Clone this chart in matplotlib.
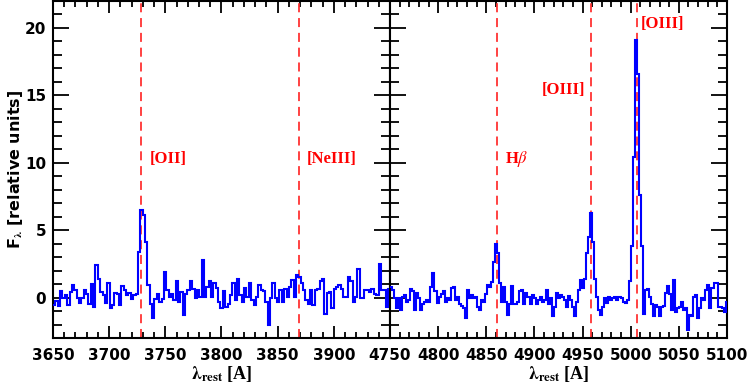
import matplotlib
matplotlib.use("Agg")
import matplotlib.pyplot as plt
import numpy as np

plt.rcParams["font.family"] = "DejaVu Sans"
plt.rcParams["mathtext.fontset"] = "stix"

# Spectrum values, 2.1 A rest-frame bins.
bin_width = 2.1

blue_start = 3650.0
blue_flux = [
    # 3650 - 3725
    -0.55, -0.25, -0.6, 0.5, 0.0, 0.2, -0.55, 0.4, 0.9, 0.55, 0.0, -0.4,
    0.0, 0.55, 0.3, -0.5, 1.0, -0.7, 2.4, 1.4, 0.4, 0.2, -0.4, 1.1,
    -0.8, -0.55, 0.35, 0.3, -0.55, 0.85, 0.55, 0.2, 0.35, -0.1, 0.2, 0.3,
    # [OII]
    3.4, 6.5, 6.1, 4.1,
    # 3734 - 3801
    0.9, -0.5, -1.5, -0.1, 0.3, -0.3, -0.1, 1.9, 0.55, 0.05, 0.25, -0.15,
    1.2, -0.3, 0.4, -1.3, 0.3, 0.55, 1.2, 0.6, -0.05, 0.55, 0.05, 2.8,
    0.05, 0.8, 1.2, 0.05, 1.05, 0.7, -0.3, -0.8,
    # 3801 - 3879
    0.45, -0.7, -0.45, 0.2, 1.05, -0.2, 1.4, 0.2, -0.3, 0.7, 0.05, 1.05,
    -0.2, -0.55, 0.05, 0.9, 0.55, 0.45, -0.3, -2.0, -0.05, 1.05, 0.0, -0.3,
    0.55, -0.3, 0.6, 0.05, 0.75, 1.3, 0.05, 1.65, 1.5, 1.1, 0.55, -0.2, -0.45,
    # 3879 - 3950
    0.55, -0.55, 0.55, 0.65, 1.25, 1.35, -1.2, 0.35, 0.4, -0.8, 0.65, 0.75,
    0.95, 0.65, 0.05, 0.05, 1.55, 1.2, -0.3, 0.05, 2.15, -0.05, -0.05, 0.55,
    0.55, 0.4, 0.65, 0.3, 0.2, 2.5, 0.55, 0.55, -0.7, 0.65,
]

red_start = 4750.0
red_flux = [
    # 4750 - 4838
    0.75, 0.55, 0.0, -0.8, -0.05, -0.9, 0.05, 0.2, -0.3, -0.2, 0.6, 0.45,
    -0.9, 0.35, -0.05, -0.9, -0.45, -0.3, -0.2, -0.3, 0.75, 1.8, 0.45, -0.4,
    0.05, 0.3, 0.5, -0.3, -0.05, -0.2, 0.7, 0.75, -0.2, 0.05, -0.45, -0.6,
    -0.8, -1.55, 0.55, 0.0, 0.2, 0.0,
    # 4838 - 4928 (Hbeta)
    0.05, -0.7, -0.9, -0.2, -0.3, 0.3, 0.9, 0.75, 1.15, 2.65, 4.0, 3.3,
    1.05, -0.3, 0.75, -0.3, -1.3, -0.45, 0.85, -0.45, -0.45, -0.3, 0.45, 0.55,
    -0.5, 0.35, 0.05, -0.5, 0.2, 0.0, -0.45, -0.2, 0.05, -0.3, -0.2, 0.55,
    -0.45, -0.05, -1.4, -0.7, 0.35, 0.0, 0.2,
    # 4928 - 5002 ([OIII] 4959)
    0.05, -0.2, -0.7, 0.1, -0.2, -0.7, -1.4, -0.3, 0.55, 1.3, 0.7, 1.4,
    3.3, 4.5, 6.25, 4.1, 1.4, 0.05, -0.95, -1.3, -0.7, -0.05, -0.4, 0.05,
    -0.15, -0.05, 0.05, -0.15, 0.05, 0.0, -0.3, -0.4, -0.2, 1.2, 3.8,
    # [OIII] 5007
    10.4, 19.1, 16.6, 7.6, 3.8, -1.2, 0.55,
    # 5017 - 5100
    0.6, 0.05, -0.45, -1.4, -0.55, -0.7, -1.4, -0.7, -0.6, 0.35, 0.85, 0.3,
    -0.9, 1.3, -1.1, -0.8, -0.7, -0.3, -0.9, -0.8, -2.4, -1.3, -1.4, 0.05,
    0.2, -1.5, -0.8, -0.05, -0.15, 0.55, 0.9, -0.8, 0.7, 1.05, 1.05, -0.7,
    -0.7, -0.75, -1.1, -0.3, -0.45, -0.2,
]

blue_lines = [3728.0, 3869.0]
blue_names = ["[OII]", "[NeIII]"]
red_lines = [4861.0, 4959.0, 5007.0]
red_names = [r"H$\beta$", "[OIII]", "[OIII]"]

# label anchors (wavelength, flux, alignment)
blue_label_pos = [(3736.5, 10.3, "left"), (3876.0, 10.3, "left")]
red_label_pos = [(4869.5, 10.3, "left"), (4953.0, 15.4, "right"), (5010.5, 20.3, "left")]

x_limits = [(3650, 3950), (4750, 5100)]
blue_ticks = [3650, 3700, 3750, 3800, 3850, 3900]
red_ticks = [4750, 4800, 4850, 4900, 4950, 5000, 5050, 5100]

LINE_RED = "#ff3333"
TEXT_RED = "#ff0000"

fig = plt.figure(figsize=(7.47, 3.86), dpi=100)
ax1 = fig.add_axes([53 / 747, 48 / 386, 337 / 747, 337 / 386])
ax2 = fig.add_axes([390 / 747, 48 / 386, 337 / 747, 337 / 386])

panels = [
    (ax1, blue_start, blue_flux, blue_lines, blue_names, blue_label_pos, blue_ticks),
    (ax2, red_start, red_flux, red_lines, red_names, red_label_pos, red_ticks),
]

for i, (ax, start, flux, lines, names, label_pos, ticks) in enumerate(panels):
    edges = start + bin_width * np.arange(len(flux) + 1)
    ax.stairs(flux, edges, color="#0000ff", lw=1.5, baseline=None, zorder=3)
    for lam in lines:
        ax.axvline(lam, color=LINE_RED, lw=1.3, linestyle=(0, (5, 3.2)), zorder=2)
    for name, (lx, ly, ha) in zip(names, label_pos):
        ax.text(lx, ly, name, color=TEXT_RED, ha=ha, va="center",
                fontsize=12, fontweight="bold", family="Liberation Serif")

    ax.set_xlim(*x_limits[i])
    ax.set_ylim(-3, 22)
    ax.set_xticks(ticks)
    ax.set_xticks(np.arange(x_limits[i][0], x_limits[i][1] + 1, 10), minor=True)
    ax.set_yticks([0, 5, 10, 15, 20])
    ax.set_yticks(np.arange(-3, 23, 1), minor=True)
    ax.tick_params(axis="both", which="both", direction="in", top=True, right=True,
                   width=1.3, color="black", labelsize=11)
    ax.tick_params(axis="x", which="major", length=8.5, pad=7)
    ax.tick_params(axis="x", which="minor", length=4.5)
    ax.tick_params(axis="y", which="major", length=11.5, pad=5)
    ax.tick_params(axis="y", which="minor", length=6.5)
    for lab in ax.get_xticklabels() + ax.get_yticklabels():
        lab.set_fontweight("bold")
    for side in ax.spines.values():
        side.set_linewidth(1.5)
    ax.set_xlabel(r"$\mathbf{\lambda_{rest}}$ [A]", fontsize=13, fontweight="bold",
                  family="Liberation Serif", labelpad=1)

ax1.set_ylabel(r"F$_\mathbf{\lambda}$ [relative units]", fontsize=11.5, fontweight="bold",
               family="DejaVu Sans", labelpad=0)
ax2.tick_params(axis="y", labelleft=False)

fig.savefig("out.png", dpi=100)
